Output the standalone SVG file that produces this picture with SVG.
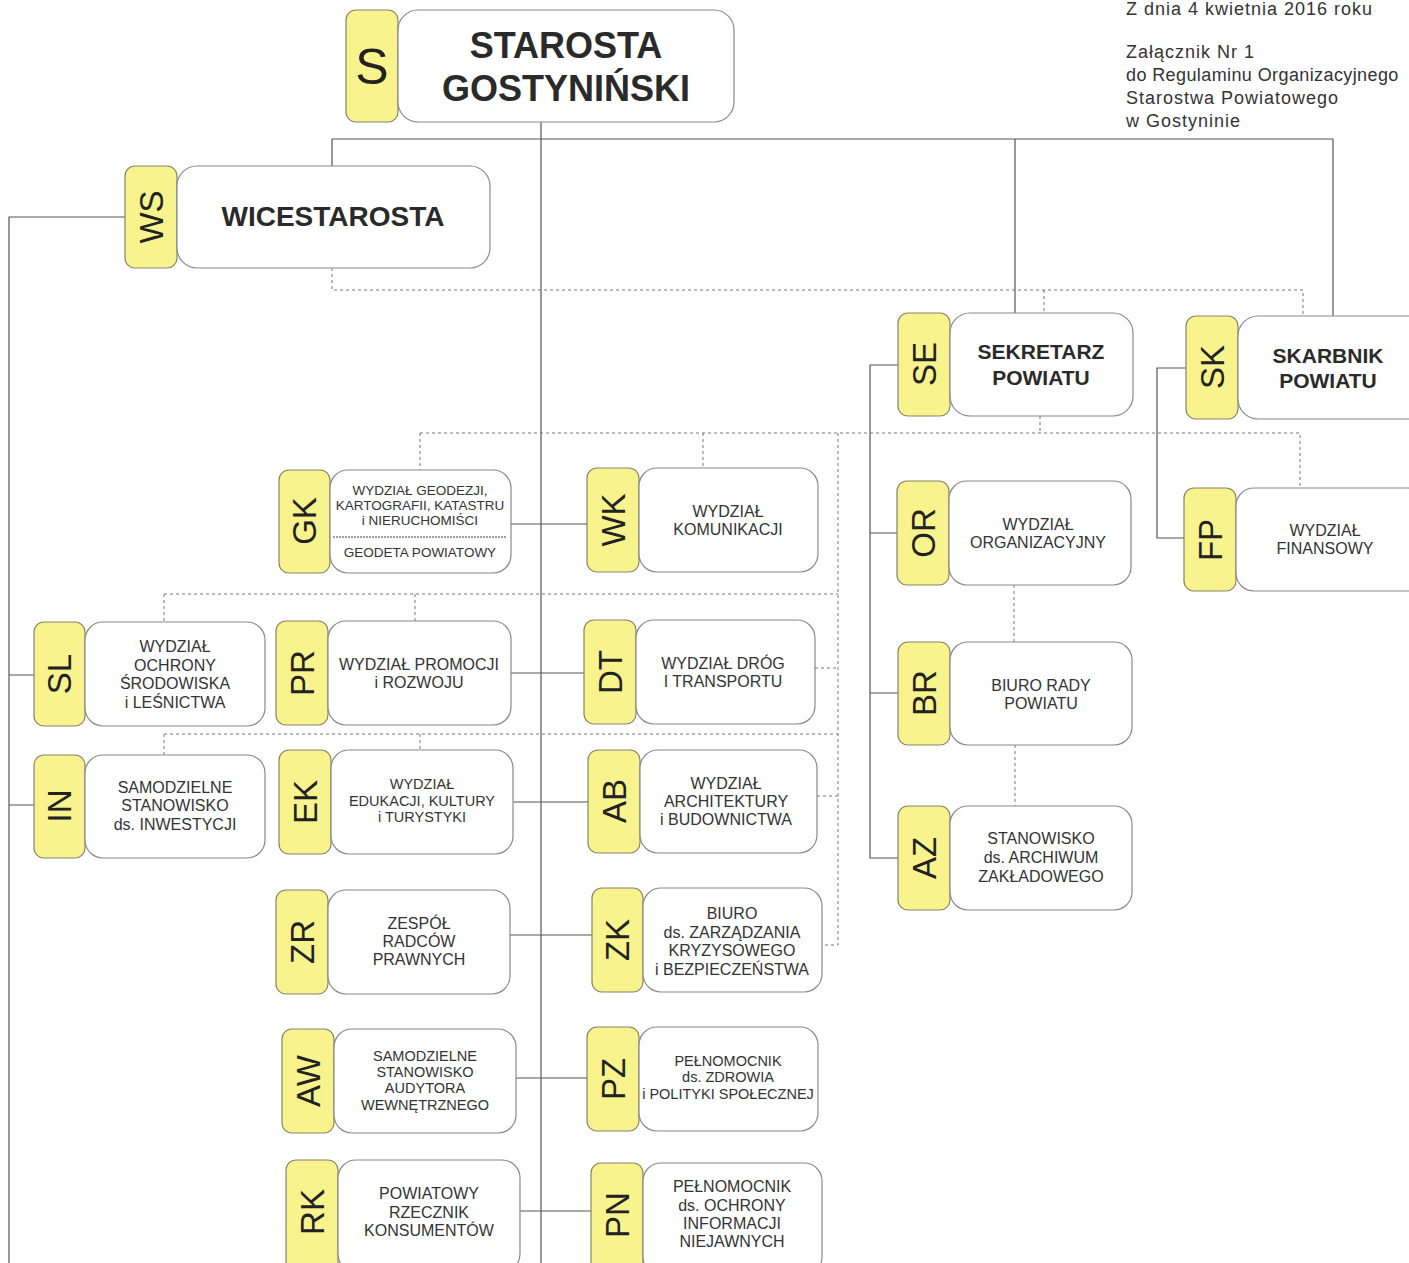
<svg xmlns="http://www.w3.org/2000/svg" width="1409" height="1263" viewBox="0 0 1409 1263">
<style>
.tab{fill:#f8f38c;stroke:#85856a;stroke-width:1.2}
.box{fill:#fff;stroke:#8a8a8a;stroke-width:1.2}
.ln{stroke:#555;stroke-width:1.2;fill:none}
.dl{stroke:#777;stroke-width:1;stroke-dasharray:3 3;fill:none}
.lab{font-family:"Liberation Sans",Arial,sans-serif;font-size:33px;fill:#222;text-anchor:middle}
.t{font-family:"Liberation Sans",Arial,sans-serif;fill:#333;text-anchor:middle;font-size:16px}
.s14{font-size:14.5px}
.s13{font-size:13.5px}
.b{font-weight:bold;fill:#2a2a2a}
.hd{font-family:"Liberation Sans",Arial,sans-serif;font-size:18px;fill:#333;letter-spacing:1px}
</style>
<rect width="1409" height="1263" fill="#fff"/>
<g id="header">
<text class="hd" x="1126" y="15">Z dnia 4 kwietnia 2016 roku</text>
<text class="hd" x="1126" y="58">Załącznik Nr 1</text>
<text class="hd" x="1126" y="81" style="letter-spacing:0.4px">do Regulaminu Organizacyjnego</text>
<text class="hd" x="1126" y="104">Starostwa Powiatowego</text>
<text class="hd" x="1126" y="127">w Gostyninie</text>
</g>
<g id="connectors">
<path class="ln" d="M541 122V1263M332 139H1333M332 139V166M1015 139V313M1333 139V316M125 217H9V1263M9 675H34M9 805H34M898 365H870V858H898M870 533H897M870 693H898M1186 368H1157V538H1184M511 524H587M511 673H584M513 802H588M510 935H592M516 1078H587M520 1211H591"/>
<path class="dl" d="M332 268V290H1303V316M1044 290V313M1040 416V433M420 433H1300V488M420 433V470M703 433V468M838 433V945H822M815 668H838M817 796H838M164 594H838M164 594V622M415 594V621M164 734H838M164 734V755M420 734V750M1014 585V642M1015 745V806"/>
</g>
<g id="S">
<rect class="tab" x="346" y="10" width="52" height="112" rx="10"/>
<rect class="box" x="398" y="10" width="336" height="112" rx="20"/>
<text class="lab" x="372" y="84" style="font-size:50px">S</text>
<text class="t b" x="566" y="58" style="font-size:36px">STAROSTA</text>
<text class="t b" x="566" y="101" style="font-size:36px">GOSTYNIŃSKI</text>
</g>
<g id="WS">
<rect class="tab" x="125" y="166" width="52" height="102" rx="10"/>
<rect class="box" x="177" y="166" width="313" height="102" rx="20"/>
<text class="lab" transform="translate(151 217) rotate(-90)" y="12">WS</text>
<text class="t b" x="333" y="226" style="font-size:28px">WICESTAROSTA</text>
</g>
<g id="SE">
<rect class="tab" x="898" y="313" width="52" height="103" rx="10"/>
<rect class="box" x="950" y="313" width="183" height="103" rx="20"/>
<text class="lab" transform="translate(924 364) rotate(-90)" y="12">SE</text>
<text class="t b" x="1041" y="359" style="font-size:21px">SEKRETARZ</text>
<text class="t b" x="1041" y="385" style="font-size:21px">POWIATU</text>
</g>
<g id="SK">
<rect class="tab" x="1186" y="316" width="52" height="103" rx="10"/>
<rect class="box" x="1238" y="316" width="190" height="103" rx="20"/>
<text class="lab" transform="translate(1212 367) rotate(-90)" y="12">SK</text>
<text class="t b" x="1328" y="363" style="font-size:21px">SKARBNIK</text>
<text class="t b" x="1328" y="388" style="font-size:21px">POWIATU</text>
</g>
<g id="GK">
<rect class="tab" x="279" y="470" width="51" height="103" rx="10"/>
<rect class="box" x="330" y="470" width="181" height="103" rx="18"/>
<text class="lab" transform="translate(304 521) rotate(-90)" y="12">GK</text>
<text class="t s13" x="420" y="495">WYDZIAŁ GEODEZJI,</text>
<text class="t s13" x="420" y="510">KARTOGRAFII, KATASTRU</text>
<text class="t s13" x="420" y="525">i NIERUCHOMIŚCI</text>
<path class="dl" d="M333 537H507" style="stroke-dasharray:2 1;stroke:#444"/>
<text class="t s13" x="420" y="557">GEODETA POWIATOWY</text>
</g>
<g id="WK">
<rect class="tab" x="587" y="468" width="52" height="104" rx="10"/>
<rect class="box" x="639" y="468" width="179" height="104" rx="18"/>
<text class="lab" transform="translate(613 520) rotate(-90)" y="12">WK</text>
<text class="t" x="728" y="517">WYDZIAŁ</text>
<text class="t" x="728" y="535">KOMUNIKACJI</text>
</g>
<g id="OR">
<rect class="tab" x="897" y="481" width="52" height="104" rx="10"/>
<rect class="box" x="949" y="481" width="182" height="104" rx="18"/>
<text class="lab" transform="translate(923 533) rotate(-90)" y="12">OR</text>
<text class="t" x="1038" y="530">WYDZIAŁ</text>
<text class="t" x="1038" y="548">ORGANIZACYJNY</text>
</g>
<g id="FP">
<rect class="tab" x="1184" y="488" width="52" height="103" rx="10"/>
<rect class="box" x="1236" y="488" width="190" height="103" rx="18"/>
<text class="lab" transform="translate(1210 540) rotate(-90)" y="12">FP</text>
<text class="t" x="1325" y="536">WYDZIAŁ</text>
<text class="t" x="1325" y="554">FINANSOWY</text>
</g>
<g id="SL">
<rect class="tab" x="34" y="622" width="51" height="104" rx="10"/>
<rect class="box" x="85" y="622" width="180" height="104" rx="18"/>
<text class="lab" transform="translate(59 674) rotate(-90)" y="12">SL</text>
<text class="t" x="175" y="652">WYDZIAŁ</text>
<text class="t" x="175" y="671">OCHRONY</text>
<text class="t" x="175" y="689">ŚRODOWISKA</text>
<text class="t" x="175" y="708">i LEŚNICTWA</text>
</g>
<g id="PR">
<rect class="tab" x="276" y="621" width="52" height="104" rx="10"/>
<rect class="box" x="328" y="621" width="183" height="104" rx="18"/>
<text class="lab" transform="translate(302 673) rotate(-90)" y="12">PR</text>
<text class="t" x="419" y="670">WYDZIAŁ PROMOCJI</text>
<text class="t" x="419" y="688">i ROZWOJU</text>
</g>
<g id="DT">
<rect class="tab" x="584" y="620" width="52" height="104" rx="10"/>
<rect class="box" x="636" y="620" width="179" height="104" rx="18"/>
<text class="lab" transform="translate(610 672) rotate(-90)" y="12">DT</text>
<text class="t" x="723" y="669">WYDZIAŁ DRÓG</text>
<text class="t" x="723" y="687">I TRANSPORTU</text>
</g>
<g id="BR">
<rect class="tab" x="898" y="642" width="52" height="103" rx="10"/>
<rect class="box" x="950" y="642" width="182" height="103" rx="18"/>
<text class="lab" transform="translate(924 693) rotate(-90)" y="12">BR</text>
<text class="t" x="1041" y="691">BIURO RADY</text>
<text class="t" x="1041" y="709">POWIATU</text>
</g>
<g id="IN">
<rect class="tab" x="34" y="755" width="51" height="103" rx="10"/>
<rect class="box" x="85" y="755" width="180" height="103" rx="18"/>
<text class="lab" transform="translate(59 806) rotate(-90)" y="12">IN</text>
<text class="t" x="175" y="793">SAMODZIELNE</text>
<text class="t" x="175" y="811">STANOWISKO</text>
<text class="t" x="175" y="830">ds. INWESTYCJI</text>
</g>
<g id="EK">
<rect class="tab" x="279" y="750" width="52" height="104" rx="10"/>
<rect class="box" x="331" y="750" width="182" height="104" rx="18"/>
<text class="lab" transform="translate(305 802) rotate(-90)" y="12">EK</text>
<text class="t s14" x="422" y="789">WYDZIAŁ</text>
<text class="t s14" x="422" y="806">EDUKACJI, KULTURY</text>
<text class="t s14" x="422" y="822">i TURYSTYKI</text>
</g>
<g id="AB">
<rect class="tab" x="588" y="750" width="52" height="103" rx="10"/>
<rect class="box" x="640" y="750" width="177" height="103" rx="18"/>
<text class="lab" transform="translate(614 801) rotate(-90)" y="12">AB</text>
<text class="t" x="726" y="789">WYDZIAŁ</text>
<text class="t" x="726" y="807">ARCHITEKTURY</text>
<text class="t" x="726" y="825">i BUDOWNICTWA</text>
</g>
<g id="AZ">
<rect class="tab" x="898" y="806" width="52" height="104" rx="10"/>
<rect class="box" x="950" y="806" width="182" height="104" rx="18"/>
<text class="lab" transform="translate(924 858) rotate(-90)" y="12">AZ</text>
<text class="t" x="1041" y="844">STANOWISKO</text>
<text class="t" x="1041" y="863">ds. ARCHIWUM</text>
<text class="t" x="1041" y="882">ZAKŁADOWEGO</text>
</g>
<g id="ZR">
<rect class="tab" x="276" y="890" width="52" height="104" rx="10"/>
<rect class="box" x="328" y="890" width="182" height="104" rx="18"/>
<text class="lab" transform="translate(302 942) rotate(-90)" y="12">ZR</text>
<text class="t" x="419" y="929">ZESPÓŁ</text>
<text class="t" x="419" y="947">RADCÓW</text>
<text class="t" x="419" y="965">PRAWNYCH</text>
</g>
<g id="ZK">
<rect class="tab" x="592" y="888" width="51" height="104" rx="10"/>
<rect class="box" x="643" y="888" width="179" height="104" rx="18"/>
<text class="lab" transform="translate(617 940) rotate(-90)" y="12">ZK</text>
<text class="t" x="732" y="919">BIURO</text>
<text class="t" x="732" y="938">ds. ZARZĄDZANIA</text>
<text class="t" x="732" y="956">KRYZYSOWEGO</text>
<text class="t" x="732" y="975">i BEZPIECZEŃSTWA</text>
</g>
<g id="AW">
<rect class="tab" x="282" y="1029" width="52" height="104" rx="10"/>
<rect class="box" x="334" y="1029" width="182" height="104" rx="18"/>
<text class="lab" transform="translate(308 1081) rotate(-90)" y="12">AW</text>
<text class="t s14" x="425" y="1061">SAMODZIELNE</text>
<text class="t s14" x="425" y="1077">STANOWISKO</text>
<text class="t s14" x="425" y="1093">AUDYTORA</text>
<text class="t s14" x="425" y="1110">WEWNĘTRZNEGO</text>
</g>
<g id="PZ">
<rect class="tab" x="587" y="1027" width="52" height="104" rx="10"/>
<rect class="box" x="639" y="1027" width="179" height="104" rx="18"/>
<text class="lab" transform="translate(613 1079) rotate(-90)" y="12">PZ</text>
<text class="t s14" x="728" y="1066">PEŁNOMOCNIK</text>
<text class="t s14" x="728" y="1082">ds. ZDROWIA</text>
<text class="t s14" x="728" y="1099">i POLITYKI SPOŁECZNEJ</text>
</g>
<g id="RK">
<rect class="tab" x="286" y="1160" width="52" height="112" rx="10"/>
<rect class="box" x="338" y="1160" width="182" height="112" rx="18"/>
<text class="lab" transform="translate(312 1212) rotate(-90)" y="12">RK</text>
<text class="t" x="429" y="1199">POWIATOWY</text>
<text class="t" x="429" y="1218">RZECZNIK</text>
<text class="t" x="429" y="1236">KONSUMENTÓW</text>
</g>
<g id="PN">
<rect class="tab" x="591" y="1163" width="52" height="112" rx="10"/>
<rect class="box" x="643" y="1163" width="179" height="112" rx="18"/>
<text class="lab" transform="translate(617 1215) rotate(-90)" y="12">PN</text>
<text class="t" x="732" y="1192">PEŁNOMOCNIK</text>
<text class="t" x="732" y="1211">ds. OCHRONY</text>
<text class="t" x="732" y="1229">INFORMACJI</text>
<text class="t" x="732" y="1247">NIEJAWNYCH</text>
</g>
</svg>
